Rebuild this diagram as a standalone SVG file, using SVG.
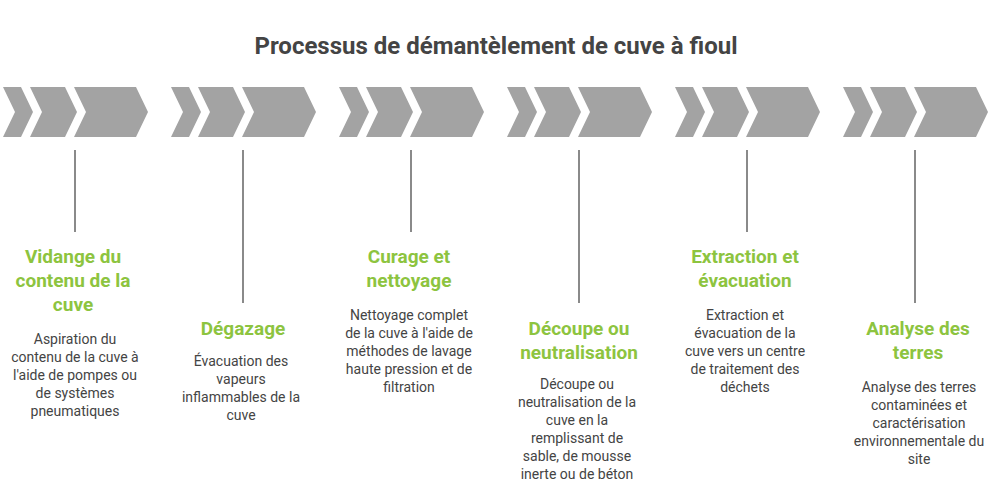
<svg xmlns="http://www.w3.org/2000/svg" width="996" height="493" viewBox="0 0 996 493">
<style>
.t{font-family:Roboto,"Liberation Sans",sans-serif;font-weight:bold;font-size:19px;fill:#8dc43f;text-anchor:middle}
.b{font-family:Roboto,"Liberation Sans",sans-serif;font-size:14px;fill:#444;text-anchor:middle}
.c{fill:#a3a3a3}
.l{stroke:#8a8a8a;stroke-width:2}
</style>
<defs>
<g id="chev">
<polygon class="c" points="3,87 21,87 33,112 21,137 3,137 15,112"/>
<polygon class="c" points="30,87 65,87 77,112 65,137 30,137 42,112"/>
<polygon class="c" points="74,87 136,87 148,112 136,137 74,137 86,112"/>
</g>
</defs>
<rect width="996" height="493" fill="#fff"/>
<text x="496" y="54" font-family="Roboto,'Liberation Sans',sans-serif" font-weight="bold" font-size="24" fill="#444" text-anchor="middle">Processus de démantèlement de cuve à fioul</text>
<g id="connectors">
<line class="l" x1="75" y1="150" x2="75" y2="232"/>
<line class="l" x1="243" y1="150" x2="243" y2="303"/>
<line class="l" x1="411" y1="150" x2="411" y2="232"/>
<line class="l" x1="579" y1="150" x2="579" y2="303"/>
<line class="l" x1="747" y1="150" x2="747" y2="232"/>
<line class="l" x1="915" y1="150" x2="915" y2="303"/>
</g>
<g id="n1"><use href="#chev"/>
<text class="t" x="73" y="263">Vidange du</text><text class="t" x="73" y="287">contenu de la</text><text class="t" x="73" y="311">cuve</text>
<text class="b" x="75" y="344">Aspiration du</text><text class="b" x="75" y="362">contenu de la cuve à</text><text class="b" x="75" y="380">l'aide de pompes ou</text><text class="b" x="75" y="398">de systèmes</text><text class="b" x="75" y="416">pneumatiques</text></g>
<g id="n2"><use href="#chev" x="168"/>
<text class="t" x="243" y="335">Dégazage</text>
<text class="b" x="241" y="366">Évacuation des</text><text class="b" x="241" y="384">vapeurs</text><text class="b" x="241" y="402">inflammables de la</text><text class="b" x="241" y="420">cuve</text></g>
<g id="n3"><use href="#chev" x="336"/>
<text class="t" x="409" y="263">Curage et</text><text class="t" x="409" y="287">nettoyage</text>
<text class="b" x="409" y="320">Nettoyage complet</text><text class="b" x="409" y="338">de la cuve à l'aide de</text><text class="b" x="409" y="356">méthodes de lavage</text><text class="b" x="409" y="374">haute pression et de</text><text class="b" x="409" y="392">filtration</text></g>
<g id="n4"><use href="#chev" x="504"/>
<text class="t" x="579" y="335">Découpe ou</text><text class="t" x="579" y="359">neutralisation</text>
<text class="b" x="577" y="389">Découpe ou</text><text class="b" x="577" y="407">neutralisation de la</text><text class="b" x="577" y="425">cuve en la</text><text class="b" x="577" y="443">remplissant de</text><text class="b" x="577" y="461">sable, de mousse</text><text class="b" x="577" y="479">inerte ou de béton</text></g>
<g id="n5"><use href="#chev" x="672"/>
<text class="t" x="745" y="263">Extraction et</text><text class="t" x="745" y="287">évacuation</text>
<text class="b" x="745" y="320">Extraction et</text><text class="b" x="745" y="338">évacuation de la</text><text class="b" x="745" y="356">cuve vers un centre</text><text class="b" x="745" y="374">de traitement des</text><text class="b" x="745" y="392">déchets</text></g>
<g id="n6"><use href="#chev" x="840"/>
<text class="t" x="918" y="335">Analyse des</text><text class="t" x="918" y="359">terres</text>
<text class="b" x="919" y="392">Analyse des terres</text><text class="b" x="919" y="410">contaminées et</text><text class="b" x="919" y="428">caractérisation</text><text class="b" x="919" y="446">environnementale du</text><text class="b" x="919" y="464">site</text></g>
</svg>
